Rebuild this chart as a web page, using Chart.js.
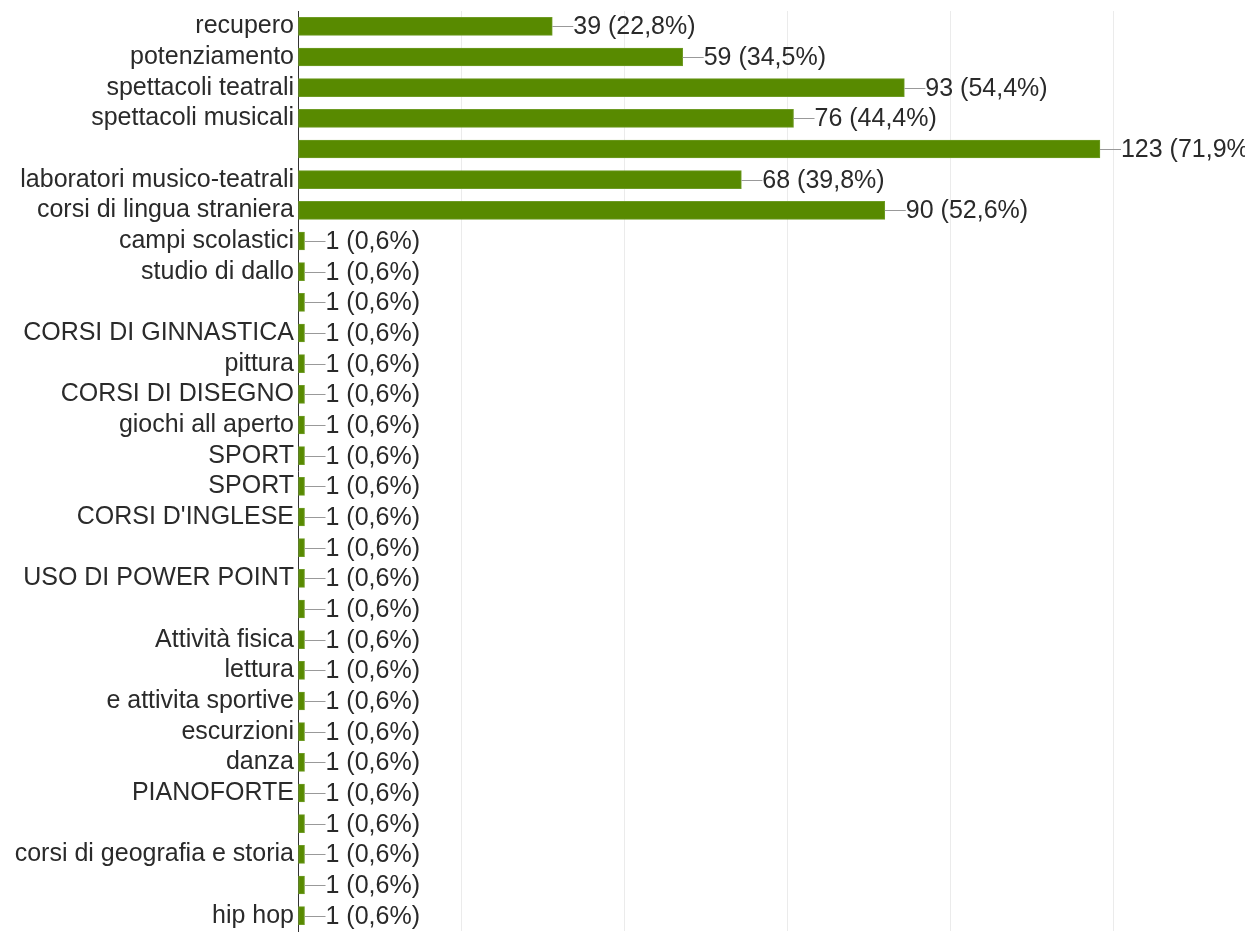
<!DOCTYPE html>
<html>
<head>
<meta charset="utf-8">
<script src="https://cdn.jsdelivr.net/npm/chart.js@4"></script>
<style>
  html, body { margin: 0; padding: 0; background: #fff; }
  #wrap { width: 1245px; height: 933px; }
</style>
</head>
<body>
<div id="wrap"><canvas id="chart" width="1245" height="933"></canvas></div>
<script>
// categories, counts and percentage labels
const categories = [
  'recupero', 'potenziamento', 'spettacoli teatrali', 'spettacoli musicali', '',
  'laboratori musico-teatrali', 'corsi di lingua straniera', 'campi scolastici', 'studio di dallo', '',
  'CORSI DI GINNASTICA', 'pittura', 'CORSI DI DISEGNO', 'giochi all aperto', 'SPORT',
  'SPORT', "CORSI D'INGLESE", '', 'USO DI POWER POINT', '',
  'Attività fisica', 'lettura', 'e attivita sportive', 'escurzioni', 'danza',
  'PIANOFORTE', '', 'corsi di geografia e storia', '', 'hip hop'
];
const counts = [
  39, 59, 93, 76, 123,
  68, 90, 1, 1, 1,
  1, 1, 1, 1, 1,
  1, 1, 1, 1, 1,
  1, 1, 1, 1, 1,
  1, 1, 1, 1, 1
];
const percents = [
  '22,8%', '34,5%', '54,4%', '44,4%', '71,9%',
  '39,8%', '52,6%', '0,6%', '0,6%', '0,6%',
  '0,6%', '0,6%', '0,6%', '0,6%', '0,6%',
  '0,6%', '0,6%', '0,6%', '0,6%', '0,6%',
  '0,6%', '0,6%', '0,6%', '0,6%', '0,6%',
  '0,6%', '0,6%', '0,6%', '0,6%', '0,6%'
];
const xTicks = { min: 0, max: 125, step: 25 };

const FONT = 'Arial, "Liberation Sans", sans-serif';

// value labels with a short leader line after each bar
const valueLabels = {
  id: 'valueLabels',
  afterDatasetsDraw(chart) {
    const ctx = chart.ctx;
    const meta = chart.getDatasetMeta(0);
    ctx.save();
    ctx.font = '25px ' + FONT;
    ctx.textBaseline = 'middle';
    meta.data.forEach((bar, i) => {
      const x = bar.x, y = Math.round(bar.y) + 0.5;
      ctx.strokeStyle = '#999';
      ctx.lineWidth = 1;
      ctx.beginPath();
      ctx.moveTo(x, y);
      ctx.lineTo(x + 21, y);
      ctx.stroke();
      ctx.fillStyle = '#2a2a2a';
      ctx.fillText(`${counts[i]} (${percents[i]})`, x + 21, y + 1);
    });
    ctx.restore();
  }
};

new Chart(document.getElementById('chart'), {
  type: 'bar',
  data: {
    labels: categories,
    datasets: [{
      data: counts,
      backgroundColor: '#588a00',
      borderColor: '#6e9b25',
      borderWidth: 1,
      borderSkipped: false,
      barThickness: 18
    }]
  },
  options: {
    indexAxis: 'y',
    responsive: false,
    animation: false,
    layout: { padding: { top: 11, right: 132, bottom: 2, left: 0 } },
    plugins: { legend: { display: false }, tooltip: { enabled: false } },
    scales: {
      x: {
        min: xTicks.min, max: xTicks.max,
        ticks: { display: false, stepSize: xTicks.step },
        grid: { color: '#ebebeb', drawTicks: false },
        border: { display: false },
        afterFit: s => { s.height = 0; }
      },
      y: {
        ticks: { color: '#2a2a2a', font: { size: 25, family: FONT }, padding: 4, autoSkip: false },
        grid: { display: false, drawTicks: false },
        border: { color: '#333', width: 1 },
        afterFit: s => { s.width = 298; s.paddingTop = 0; s.paddingBottom = 0; }
      }
    }
  },
  plugins: [valueLabels]
});
</script>
</body>
</html>
